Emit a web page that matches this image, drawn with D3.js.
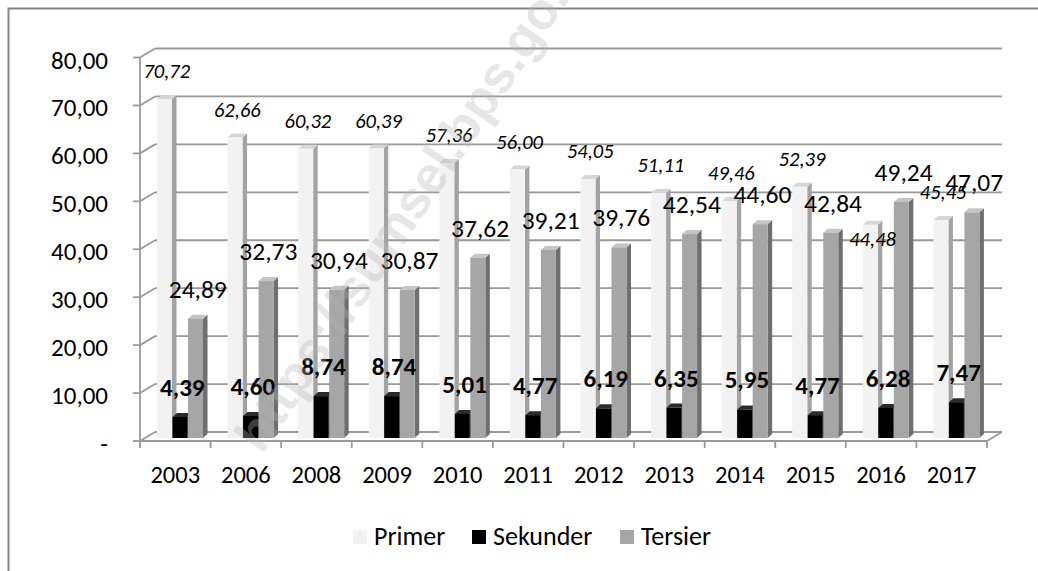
<!DOCTYPE html>
<html lang="id">
<head>
<meta charset="UTF-8">
<title>Primer, Sekunder, Tersier 2003-2017</title>
<script src="https://d3js.org/d3.v7.min.js"></script>
<style>
  body { margin: 0; background: #fff; }
  svg text { font-family: Carlito, Lato, "Open Sans", sans-serif; fill: #000; }
</style>
</head>
<body>
<svg id="chart" width="1038" height="571"></svg>
<script>
// data
const years = ["2003", "2006", "2008", "2009", "2010", "2011", "2012", "2013", "2014", "2015", "2016", "2017"];
const primer = [70.72, 62.66, 60.32, 60.39, 57.36, 56.00, 54.05, 51.11, 49.46, 52.39, 44.48, 45.45];
const sekunder = [4.39, 4.60, 8.74, 8.74, 5.01, 4.77, 6.19, 6.35, 5.95, 4.77, 6.28, 7.47];
const tersier = [24.89, 32.73, 30.94, 30.87, 37.62, 39.21, 39.76, 42.54, 44.60, 42.84, 49.24, 47.07];
const seriesNames = ["Primer", "Sekunder", "Tersier"];
const yTicks = [0, 10, 20, 30, 40, 50, 60, 70, 80];

const svg = d3.select("#chart");

// colours per series: front, side, top
const colors = {
  Primer:   { front: "#f2f2f2", side: "#a3a3a3", top: "#d6d6d6" },
  Sekunder: { front: "#000000", side: "#111111", top: "#2b2b2b" },
  Tersier:  { front: "#a6a6a6", side: "#6f6f6f", top: "#c4c4c4" }
};

const locale = d3.formatLocale({ decimal: ",", thousands: ".", grouping: [3], currency: ["Rp", ""] });
const fmt = locale.format(".2f");

// frame
svg.append("rect")
  .attr("x", 8.5).attr("y", 8.5)
  .attr("width", 1100).attr("height", 700)
  .attr("fill", "none").attr("stroke", "#858585").attr("stroke-width", 2);

const x = d3.scaleBand().domain(years).range([140, 987]).padding(0);
const y = d3.scaleLinear().domain([0, 80]).range([441, 57.5]);
const xs = d3.scaleBand().domain(seriesNames).range([17, 63.5]);

// depth offsets
const wallDx = 15, wallDy = 9;   // back wall
const barDx = 4.5, barDy = 4;    // bar depth
const barShift = 3;              // bars sit slightly behind the front edge

const grid = svg.append("g").attr("stroke", "#999").attr("stroke-width", 1.8).attr("fill", "none");

// back wall gridlines
grid.selectAll(".gl").data(yTicks).join("line")
  .attr("x1", 140 + wallDx).attr("x2", 987 + wallDx)
  .attr("y1", d => y(d) - wallDy).attr("y2", d => y(d) - wallDy);

// left wall diagonals
grid.selectAll(".dg").data(yTicks).join("line")
  .attr("x1", 140).attr("x2", 140 + wallDx)
  .attr("y1", d => y(d)).attr("y2", d => y(d) - wallDy);

// vertical axis + ticks
grid.append("line").attr("x1", 140).attr("x2", 140).attr("y1", y(80)).attr("y2", y(0));
grid.selectAll(".tk").data(yTicks).join("line")
  .attr("x1", 133).attr("x2", 140)
  .attr("y1", d => y(d)).attr("y2", d => y(d));

// floor front edge and right side
grid.append("line").attr("x1", 140).attr("x2", 987).attr("y1", y(0)).attr("y2", y(0));
grid.append("line").attr("x1", 987).attr("x2", 987 + wallDx).attr("y1", y(0)).attr("y2", y(0) - wallDy);

// x ticks at band edges
const edges = years.map(d => x(d)).concat([987]);
grid.selectAll(".xt").data(edges).join("line")
  .attr("x1", d => d).attr("x2", d => d)
  .attr("y1", y(0)).attr("y2", y(0) + 7);

// y labels
svg.append("g").selectAll("text").data(yTicks).join("text")
  .attr("x", 108).attr("y", d => y(d) + 11)
  .attr("text-anchor", "end")
  .style("font-size", "25px")
  .text(d => d === 0 ? "-" : fmt(d));

// x labels
svg.append("g").selectAll("text").data(years).join("text")
  .attr("x", d => x(d) + x.bandwidth() / 2).attr("y", 483)
  .attr("text-anchor", "middle")
  .style("font-size", "24.5px")
  .text(d => d);

// bars
const rows = years.map((yr, i) => ({
  year: yr,
  vals: [
    { s: "Primer", v: primer[i] },
    { s: "Sekunder", v: sekunder[i] },
    { s: "Tersier", v: tersier[i] }
  ]
}));

const bw = xs.bandwidth() - 0.5;
const cat = svg.append("g").selectAll("g").data(rows).join("g")
  .attr("transform", d => `translate(${x(d.year)},0)`);

const bar = cat.selectAll("g").data(d => d.vals).join("g");
const yb = y(0) - barShift;

bar.append("polygon") // side
  .attr("fill", d => colors[d.s].side)
  .attr("points", d => {
    const x0 = xs(d.s) + bw, yt = y(d.v) - barShift;
    return [[x0, yt], [x0 + barDx, yt - barDy], [x0 + barDx, yb - barDy], [x0, yb]].join(" ");
  });
bar.append("polygon") // top
  .attr("fill", d => colors[d.s].top)
  .attr("points", d => {
    const x0 = xs(d.s), yt = y(d.v) - barShift;
    return [[x0, yt], [x0 + bw, yt], [x0 + bw + barDx, yt - barDy], [x0 + barDx, yt - barDy]].join(" ");
  });
bar.append("rect") // front
  .attr("x", d => xs(d.s))
  .attr("y", d => y(d.v) - barShift)
  .attr("width", bw)
  .attr("height", d => yb - (y(d.v) - barShift))
  .attr("fill", d => colors[d.s].front);

// data labels
const labelStyle = {
  Primer:   { size: "20.5px", weight: "normal", italic: true },
  Sekunder: { size: "25px", weight: "bold", italic: false },
  Tersier:  { size: "25.5px", weight: "normal", italic: false }
};
const labels = [];
rows.forEach(r => r.vals.forEach(d => labels.push({ year: r.year, s: d.s, v: d.v })));
// the 2016 Primer label was dragged below its bar top in the original
const dropped = d => d.year === "2016" && d.s === "Primer";

svg.append("g").selectAll("text").data(labels).join("text")
  .attr("x", d => x(d.year) + xs(d.s) + (bw + barDx) / 2)
  .attr("y", d => y(d.v) - barShift - barDy - (dropped(d) ? -25 : 17))
  .attr("text-anchor", "middle")
  .style("font-size", d => labelStyle[d.s].size)
  .style("font-weight", d => labelStyle[d.s].weight)
  .style("font-style", d => labelStyle[d.s].italic ? "italic" : "normal")
  .text(d => fmt(d.v));

// legend
const legendX = [353, 472, 620];
const lg = svg.append("g").selectAll("g").data(seriesNames).join("g")
  .attr("transform", (d, i) => `translate(${legendX[i]},530)`);
lg.append("rect").attr("width", 14).attr("height", 14).attr("fill", d => colors[d].front);
lg.append("text").attr("x", 21).attr("y", 15)
  .style("font-size", "26px")
  .text(d => d);

// watermark
svg.append("text")
  .attr("transform", "translate(262,455) rotate(-56)")
  .style("font-family", "'Liberation Sans', Arial, sans-serif")
  .style("font-weight", "bold")
  .style("font-size", "52px")
  .style("fill", "#b5b5b5")
  .style("opacity", 0.33)
  .text("https://sumsel.bps.go.id");
</script>
</body>
</html>
